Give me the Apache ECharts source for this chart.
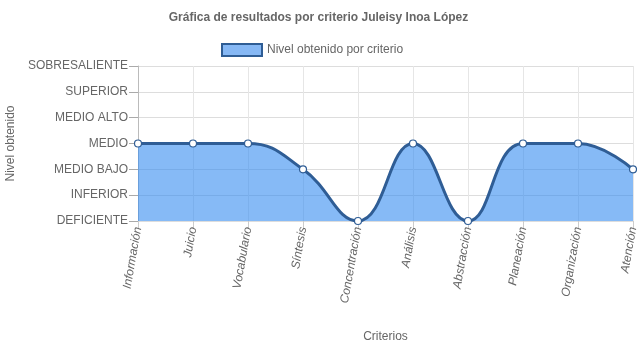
<!DOCTYPE html>
<html>
<head>
<meta charset="utf-8">
<script src="https://cdn.jsdelivr.net/npm/echarts@6/dist/echarts.min.js"></script>
<style>
  html, body { margin: 0; padding: 0; background: #fff; }
  #grafica_criterios { width: 637px; height: 348px; }
</style>
</head>
<body>
<div id="grafica_criterios"></div>
<script>
// niveles del eje Y (de abajo hacia arriba)
var niveles = ["DEFICIENTE", "INFERIOR", "MEDIO BAJO", "MEDIO", "MEDIO ALTO", "SUPERIOR", "SOBRESALIENTE"];
// criterios del eje X
var criterios = ["Información", "Juicio", "Vocabulario", "Síntesis", "Concentración", "Análisis", "Abstracción", "Planeación", "Organización", "Atención"];
// nivel obtenido por cada criterio
var resultados = ["MEDIO", "MEDIO", "MEDIO", "MEDIO BAJO", "DEFICIENTE", "MEDIO", "DEFICIENTE", "MEDIO", "MEDIO", "MEDIO BAJO"];

var fuente = "Liberation Sans, Arial, sans-serif";
var myChart = echarts.init(document.getElementById("grafica_criterios"));

var option = {
  animation: false,
  textStyle: { fontFamily: fuente },
  title: {
    text: "Gráfica de resultados por criterio Juleisy Inoa López",
    left: "center",
    top: 7,
    textStyle: { fontSize: 12, fontWeight: "bold", color: "#666", fontFamily: fuente }
  },
  legend: {
    top: 38,
    left: 216,
    icon: "rect",
    itemWidth: 40,
    itemHeight: 12,
    itemGap: 6,
    itemStyle: { color: "#86b8f5", borderColor: "#2f5d95", borderWidth: 2 },
    textStyle: { fontSize: 12, color: "#666", fontFamily: fuente },
    data: ["Nivel obtenido por criterio"]
  },
  grid: { left: 138, right: 4, top: 66, bottom: 127, outerBoundsMode: "none", containLabel: false },
  xAxis: {
    type: "category",
    data: criterios,
    boundaryGap: false,
    name: "Criterios",
    nameLocation: "middle",
    nameGap: 110,
    nameTextStyle: { fontSize: 12, color: "#666" },
    axisLine: { show: true, lineStyle: { color: "#ddd" } },
    axisTick: { show: true, length: 8, lineStyle: { color: "#ccc" } },
    axisLabel: { rotate: 80, fontSize: 12, color: "#666", fontStyle: "italic", margin: 6, interval: 0 },
    splitLine: { show: true, lineStyle: { color: "#e6e6e6" } }
  },
  yAxis: {
    type: "value",
    min: 0,
    max: niveles.length - 1,
    interval: 1,
    name: "Nivel obtenido",
    nameLocation: "middle",
    nameGap: 115,
    nameRotate: 90,
    nameTextStyle: { fontSize: 12, color: "#666" },
    axisLine: { show: true, lineStyle: { color: "#bbb" } },
    axisTick: { show: true, length: 9, lineStyle: { color: "#aaa" } },
    axisLabel: {
      fontSize: 12,
      color: "#666",
      margin: 10,
      formatter: function (v) { return niveles[v]; }
    },
    splitLine: { show: true, lineStyle: { color: "#ddd" } }
  },
  series: [
    {
      name: "Nivel obtenido por criterio",
      type: "line",
      data: resultados.map(function (n) { return niveles.indexOf(n); }),
      smooth: 0.45,
      symbol: "circle",
      symbolSize: 7,
      itemStyle: { color: "#fff", borderColor: "#2f5d95", borderWidth: 1.2 },
      lineStyle: { color: "#2f5d95", width: 3 },
      areaStyle: { color: "rgba(54,140,240,0.6)", opacity: 1, origin: "start" },
      z: 3
    }
  ]
};
myChart.setOption(option);
</script>
</body>
</html>
